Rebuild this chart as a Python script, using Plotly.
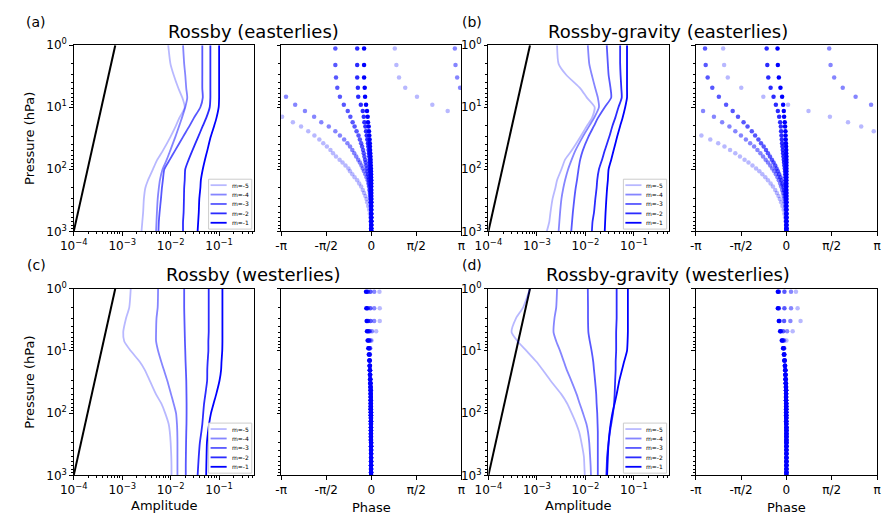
import math
import plotly.graph_objects as go

# ---------------- data ----------------
PLEV_AMP = [1, 2, 3, 5, 7, 10, 15, 20, 30, 50, 70, 100, 150, 200, 300, 500, 700, 1000]
PLEV_PHASE = [1.13, 2.08, 3.32, 4.87, 6.81, 9.09, 11.5, 14.3, 17.4, 20.5, 24.3, 28.5, 33, 38, 43, 49,
              55, 62, 70, 78, 87, 97, 108, 120, 135, 150, 170, 190, 215, 240, 270, 300, 340, 390,
              450, 520, 600, 690, 790, 900, 1000]
BLACK_P = [1000, 1]
BLACK_AMP = [1e-4, 7.2e-4]
M_LABELS = ["m=-5", "m=-4", "m=-3", "m=-2", "m=-1"]
TITLES = ["Rossby (easterlies)", "Rossby-gravity (easterlies)",
          "Rossby (westerlies)", "Rossby-gravity (westerlies)"]
PANEL_TAGS = ["(a)", "(b)", "(c)", "(d)"]
AMP_TICKS = [1e-4, 1e-3, 1e-2, 1e-1]
AMP_TICKTEXT = ["10<sup>\u22124</sup>", "10<sup>\u22123</sup>", "10<sup>\u22122</sup>", "10<sup>\u22121</sup>"]
P_TICKS = [1, 10, 100, 1000]
P_TICKTEXT = ["10<sup>0</sup>", "10<sup>1</sup>", "10<sup>2</sup>", "10<sup>3</sup>"]
PHASE_TICKS = [-math.pi, -math.pi / 2, 0, math.pi / 2, math.pi]
PHASE_TICKTEXT = ["-\u03c0", "-\u03c0/2", "0", "\u03c0/2", "\u03c0"]

# amplitude profiles, order m=-5, m=-4, m=-3, m=-2, m=-1
AMP_A = [
    [.0089, .0099, .0115, .0145, .0174, .0195, .015, .0128, .0099, .0069, .0053, .0043, .0034, .003, .0028, .0027, .0026, .0025],
    [.018, .019, .020, .021, .022, .020, .017, .015, .0125, .0098, .0083, .0068, .006, .0057, .0054, .0052, .0051, .005],
    [.045, .045, .045, .045, .046, .041, .030, .0245, .018, .0123, .0096, .0074, .0069, .0066, .0063, .0059, .0057, .0056],
    [.066, .066, .066, .066, .066, .064, .054, .046, .037, .028, .0235, .020, .0195, .019, .0188, .0185, .018, .018],
    [.1, .1, .1, .1, .1, .098, .088, .079, .067, .057, .051, .046, .042, .041, .039, .038, .037, .036],
]
AMP_B = [
    [.0026, .0028, .0040, .0079, .0107, .0155, .0136, .0107, .0079, .0052, .0038, .0032, .0026, .0024, .0021, .0019, .0018, .0016],
    [.0112, .012, .0135, .016, .018, .019, .015, .012, .0088, .0062, .0052, .0044, .0038, .0035, .0032, .003, .0029, .0028],
    [.0275, .029, .030, .033, .034, .025, .018, .015, .0115, .0088, .0078, .0072, .0067, .0063, .0059, .0055, .0053, .0051],
    [.052, .052, .053, .055, .056, .048, .041, .036, .031, .025, .022, .019, .0175, .017, .016, .015, .014, .0136],
    [.072, .072, .072, .072, .072, .066, .058, .052, .045, .038, .034, .030, .029, .028, .027, .026, .0255, .025],
]
AMP_C = [
    [.0015, .0014, .0012, .00105, .0011, .0015, .0023, .0029, .0037, .005, .0064, .0077, .0091, .0096, .0100, .0103, .0104, .0104],
    [.0055, .0054, .0051, .005, .005, .0055, .0064, .0072, .0085, .0102, .0115, .0129, .0135, .0137, .0138, .0138, .0138, .0138],
    [.019, .019, .0192, .0195, .0197, .020, .0203, .0206, .021, .0212, .0213, .0213, .0212, .021, .0208, .0206, .0205, .0205],
    [.061, .061, .061, .061, .060, .060, .058, .057, .0566, .052, .049, .047, .045, .043, .040, .038, .037, .036],
    [.117, .117, .117, .117, .117, .116, .112, .110, .102, .087, .077, .068, .062, .059, .056, .055, .0545, .054],
]
AMP_D = [
    [.00072, .00052, .00037, .0003, .0004, .00061, .00098, .0013, .0019, .0032, .0042, .0052, .0065, .0074, .0083, .0093, .0095, .0097],
    [.0026, .0025, .0023, .0022, .0025, .003, .0036, .0041, .0051, .0066, .0076, .0089, .0105, .0113, .012, .0125, .0128, .013],
    [.0112, .0113, .0113, .0115, .0123, .0134, .0145, .015, .0158, .0167, .017, .0175, .0178, .018, .018, .018, .018, .018],
    [.044, .044, .044, .043, .043, .043, .042, .042, .041, .040, .039, .037, .034, .032, .030, .028, .0275, .027],
    [.075, .075, .075, .075, .074, .072, .0625, .057, .050, .044, .040, .036, .033, .0315, .030, .029, .0285, .028],
]

# phase profiles (radians), order m=-5 ... m=-1
PH_A = [
    [0.82, 0.876, 0.968, 1.184, 1.594, 2.129, 2.664, -3.108, -2.732, -2.447, -2.197, -1.981, -1.81, -1.673,
     -1.548, -1.423, -1.332, -1.229, -1.104, -1.002, -0.899, -0.797, -0.74, -0.66, -0.581, -0.489, -0.421,
     -0.353, -0.296, -0.25, -0.205, -0.165, -0.142, -0.108, -0.074, -0.051, -0.034, -0.023, -0.011, -0.006, 0.0],
    [2.914, 2.937, 2.994, 3.096, -2.971, -2.652, -2.311, -1.992, -1.742, -1.48, -1.252, -1.093, -0.945,
     -0.831, -0.74, -0.66, -0.592, -0.524, -0.455, -0.398, -0.341, -0.296, -0.25, -0.205, -0.165, -0.125,
     -0.102, -0.08, -0.068, -0.051, -0.04, -0.028, -0.023, -0.017, -0.011, -0.006, 0.0, 0.0, 0.0, 0.0, 0.0],
    [-1.252, -1.252, -1.229, -1.184, -1.093, -0.956, -0.82, -0.729, -0.649, -0.581, -0.512, -0.444, -0.398,
     -0.353, -0.319, -0.285, -0.262, -0.239, -0.216, -0.194, -0.171, -0.148, -0.125, -0.108, -0.091, -0.08,
     -0.068, -0.057, -0.046, -0.034, -0.028, -0.023, -0.017, -0.011, -0.006, 0.0, 0.0, 0.0, 0.0, 0.0, 0.0],
    [-0.49, -0.49, -0.49, -0.467, -0.455, -0.364, -0.296, -0.262, -0.239, -0.205, -0.182, -0.159, -0.137,
     -0.114, -0.102, -0.091, -0.08, -0.068, -0.057, -0.051, -0.046, -0.04, -0.034, -0.028, -0.023, -0.017,
     -0.011, -0.011, -0.006, -0.006, -0.006, 0.0, 0.0, 0.0, 0.0, 0.0, 0.0, 0.0, 0.0, 0.0, 0.0],
    [-0.25, -0.25, -0.25, -0.228, -0.216, -0.182, -0.148, -0.125, -0.114, -0.091, -0.08, -0.068, -0.057,
     -0.051, -0.046, -0.04, -0.034, -0.028, -0.023, -0.023, -0.017, -0.011, -0.011, -0.006, -0.006, 0.0,
     0.0, 0.0, 0.0, 0.0, 0.0, 0.0, 0.0, 0.0, 0.0, 0.0, 0.0, 0.0, 0.0, 0.0, 0.0],
]
PH_B = [
    [-2.193, -2.159, -2.033, -1.565, -0.8, 0.057, 0.765, 1.508, 2.136, 2.593, 3.027, -2.947, -2.639, -2.365,
     -2.148, -1.953, -1.771, -1.611, -1.451, -1.314, -1.177, -1.051, -0.937, -0.834, -0.731, -0.64, -0.548,
     -0.468, -0.388, -0.331, -0.274, -0.228, -0.183, -0.137, -0.097, -0.069, -0.046, -0.029, -0.017, -0.006, 0.0],
    [1.485, 1.531, 1.656, 1.953, 2.399, 2.936, -2.89, -2.513, -2.228, -1.976, -1.771, -1.577, -1.405, -1.257,
     -1.12, -1.005, -0.902, -0.811, -0.72, -0.64, -0.56, -0.491, -0.423, -0.366, -0.308, -0.263, -0.217,
     -0.183, -0.149, -0.12, -0.097, -0.074, -0.057, -0.04, -0.029, -0.017, -0.011, -0.006, 0.0, 0.0, 0.0],
    [-2.822, -2.799, -2.73, -2.57, -2.342, -2.091, -1.862, -1.679, -1.485, -1.348, -1.2, -1.085, -0.971,
     -0.88, -0.788, -0.708, -0.64, -0.571, -0.503, -0.446, -0.388, -0.343, -0.297, -0.251, -0.206, -0.171,
     -0.137, -0.103, -0.08, -0.057, -0.04, -0.029, -0.017, -0.011, -0.006, 0.0, 0.0, 0.0, 0.0, 0.0, 0.0],
    [-0.685, -0.663, -0.628, -0.548, -0.446, -0.366, -0.297, -0.251, -0.217, -0.194, -0.183, -0.171, -0.16,
     -0.149, -0.137, -0.126, -0.114, -0.103, -0.091, -0.08, -0.069, -0.057, -0.046, -0.04, -0.034, -0.029,
     -0.023, -0.017, -0.011, -0.006, -0.006, -0.006, 0.0, 0.0, 0.0, 0.0, 0.0, 0.0, 0.0, 0.0, 0.0],
    [-0.308, -0.297, -0.263, -0.206, -0.149, -0.114, -0.091, -0.08, -0.057, -0.046, -0.034, -0.029, -0.023,
     -0.017, -0.011, -0.006, -0.006, 0.0, 0.0, 0.0, 0.0, 0.0, 0.0, 0.0, 0.0, 0.0, 0.0, 0.0, 0.0, 0.0, 0.0,
     0.0, 0.0, 0.0, 0.0, 0.0, 0.0, 0.0, 0.0, 0.0, 0.0],
]
PH_C = [
    [0.285, 0.296, 0.296, 0.171, 0.011, -0.034, -0.046, -0.057, -0.051, -0.046, -0.04, -0.034, -0.028, -0.023,
     -0.017, -0.017, -0.017, -0.017, -0.017, -0.017, -0.017, -0.011, -0.011, -0.011, -0.011, -0.011, -0.011,
     -0.011, -0.011, -0.011, -0.011, -0.006, -0.006, -0.006, -0.006, -0.006, -0.006, -0.006, -0.006, -0.006, -0.006],
    [0.102, 0.102, 0.102, 0.023, -0.023, -0.046, -0.051, -0.057, -0.051, -0.046, -0.04, -0.034, -0.028, -0.023,
     -0.017, -0.017, -0.017, -0.017, -0.017, -0.017, -0.017, -0.011, -0.011, -0.011, -0.011, -0.011, -0.011,
     -0.011, -0.011, -0.011, -0.011, -0.006, -0.006, -0.006, -0.006, -0.006, -0.006, -0.006, -0.006, -0.006, -0.006],
    [-0.034, -0.034, -0.023, -0.057, -0.068, -0.063, -0.057, -0.051, -0.046, -0.043, -0.04, -0.034, -0.028, -0.023,
     -0.017, -0.017, -0.017, -0.017, -0.017, -0.017, -0.017, -0.011, -0.011, -0.011, -0.011, -0.011, -0.011,
     -0.011, -0.011, -0.011, -0.011, -0.006, -0.006, -0.006, -0.006, -0.006, -0.006, -0.006, -0.006, -0.006, -0.006],
    [-0.125, -0.125, -0.114, -0.102, -0.091, -0.08, -0.068, -0.057, -0.051, -0.046, -0.04, -0.034, -0.028, -0.023,
     -0.017, -0.017, -0.017, -0.017, -0.017, -0.017, -0.017, -0.011, -0.011, -0.011, -0.011, -0.011, -0.011,
     -0.011, -0.011, -0.011, -0.011, -0.006, -0.006, -0.006, -0.006, -0.006, -0.006, -0.006, -0.006, -0.006, -0.006],
    [-0.182, -0.171, -0.159, -0.148, -0.125, -0.102, -0.085, -0.068, -0.057, -0.051, -0.046, -0.04, -0.034, -0.028,
     -0.023, -0.023, -0.017, -0.017, -0.017, -0.017, -0.017, -0.017, -0.017, -0.011, -0.011, -0.011, -0.011,
     -0.011, -0.011, -0.011, -0.011, -0.006, -0.006, -0.006, -0.006, -0.006, -0.006, -0.006, -0.006, -0.006, -0.006],
]
PH_D = [
    [0.331, 0.388, 0.491, 0.217, 0.0, -0.069, -0.069, -0.063, -0.051, -0.04, -0.034, -0.029, -0.023, -0.017,
     -0.011, -0.011, -0.011, -0.011, -0.006, -0.006, -0.006, -0.006, -0.006, -0.006, -0.006, -0.006,
     0.0, 0.0, 0.0, 0.0, 0.0, 0.0, 0.0, 0.0, 0.0, 0.0, 0.0, 0.0, 0.0, 0.0, 0.0],
    [0.16, 0.16, 0.137, 0.023, -0.08, -0.091, -0.075, -0.063, -0.051, -0.04, -0.034, -0.029, -0.023, -0.017,
     -0.011, -0.011, -0.011, -0.011, -0.006, -0.006, -0.006, -0.006, -0.006, -0.006, -0.006, -0.006,
     0.0, 0.0, 0.0, 0.0, 0.0, 0.0, 0.0, 0.0, 0.0, 0.0, 0.0, 0.0, 0.0, 0.0, 0.0],
    [-0.069, -0.069, -0.08, -0.114, -0.114, -0.091, -0.075, -0.063, -0.051, -0.04, -0.034, -0.029, -0.023, -0.017,
     -0.011, -0.011, -0.011, -0.011, -0.006, -0.006, -0.006, -0.006, -0.006, -0.006, -0.006, -0.006,
     0.0, 0.0, 0.0, 0.0, 0.0, 0.0, 0.0, 0.0, 0.0, 0.0, 0.0, 0.0, 0.0, 0.0, 0.0],
    [-0.263, -0.263, -0.24, -0.194, -0.137, -0.103, -0.08, -0.063, -0.046, -0.034, -0.029, -0.023, -0.017, -0.011,
     -0.011, -0.011, -0.011, -0.011, -0.006, -0.006, -0.006, -0.006, -0.006, -0.006, -0.006, -0.006,
     0.0, 0.0, 0.0, 0.0, 0.0, 0.0, 0.0, 0.0, 0.0, 0.0, 0.0, 0.0, 0.0, 0.0, 0.0],
    [-0.297, -0.297, -0.263, -0.217, -0.16, -0.114, -0.086, -0.069, -0.051, -0.04, -0.034, -0.029, -0.023, -0.017,
     -0.011, -0.011, -0.011, -0.011, -0.006, -0.006, -0.006, -0.006, -0.006, -0.006, -0.006, -0.006,
     0.0, 0.0, 0.0, 0.0, 0.0, 0.0, 0.0, 0.0, 0.0, 0.0, 0.0, 0.0, 0.0, 0.0, 0.0],
]

AMPS = [AMP_A, AMP_B, AMP_C, AMP_D]
PHASES = [PH_A, PH_B, PH_C, PH_D]
for grp in AMPS:
    for s in grp:
        assert len(s) == len(PLEV_AMP)
for grp in PHASES:
    for s in grp:
        assert len(s) == len(PLEV_PHASE), len(s)

# ---------------- style ----------------
W, H = 882, 527
FONT = "DejaVu Sans"
ALPHAS = [0.28, 0.48, 0.66, 0.83, 1.0]
COLORS = [f"rgba(0,0,255,{a})" for a in ALPHAS]

# pixel boxes of the panels (left, right) and (top, bottom)
COLS = [(61, 245.5), (272.7, 456.7), (484.3, 669), (696, 881)]
ROWS = [(37.3, 229.3), (288.3, 481)]


def fx(px):
    return px / W


def fy(py):
    return 1 - py / H


minor_y = [m * 10 ** e for e in range(0, 3) for m in range(2, 10)]
minor_x = [m * 10 ** e for e in range(-4, 0) for m in range(2, 10) if m * 10 ** e < 0.55]
minor_style = dict(ticks="outside", ticklen=2, tickwidth=0.6, tickcolor="black", showgrid=False)

common = dict(showline=True, mirror=True, linecolor="black", linewidth=0.9,
              ticks="outside", ticklen=3.5, tickwidth=0.9, tickcolor="black",
              showgrid=False, zeroline=False,
              tickfont=dict(family=FONT, size=12, color="black"))

fig = go.Figure()
layout = dict(width=W, height=H, margin=dict(l=0, r=0, t=0, b=0), autosize=False,
              paper_bgcolor="white", plot_bgcolor="white", showlegend=False,
              font=dict(family=FONT, color="black"))
annotations = []
shapes = []

for k in range(4):
    r, c = divmod(k, 2)
    ia, ip = 2 * k + 1, 2 * k + 2
    xa = "x" if ia == 1 else f"x{ia}"
    ya = "y" if ia == 1 else f"y{ia}"
    xp, yp = f"x{ip}", f"y{ip}"
    top, bot = ROWS[r]
    ydom = [fy(bot), fy(top)]
    l1, r1 = COLS[2 * c]
    l2, r2 = COLS[2 * c + 1]

    # amplitude axes
    layout["xaxis" if ia == 1 else f"xaxis{ia}"] = dict(
        common, type="log", range=[-4, -0.27], domain=[fx(l1), fx(r1)], anchor=ya,
        tickmode="array", tickvals=AMP_TICKS, ticktext=AMP_TICKTEXT,
        minor=dict(minor_style, tickvals=minor_x))
    layout["yaxis" if ia == 1 else f"yaxis{ia}"] = dict(
        common, type="log", range=[3, 0], domain=ydom, anchor=xa,
        tickmode="array", tickvals=P_TICKS, ticktext=P_TICKTEXT,
        minor=dict(minor_style, tickvals=minor_y))
    # phase axes
    layout[f"xaxis{ip}"] = dict(
        common, range=[-math.pi, math.pi], domain=[fx(l2), fx(r2)], anchor=yp,
        tickmode="array", tickvals=PHASE_TICKS, ticktext=PHASE_TICKTEXT)
    layout[f"yaxis{ip}"] = dict(
        common, type="log", range=[3, 0], domain=ydom, anchor=xp,
        tickmode="array", tickvals=P_TICKS, showticklabels=False,
        minor=dict(minor_style, tickvals=minor_y))

    # black reference line
    fig.add_trace(go.Scatter(x=BLACK_AMP, y=BLACK_P, mode="lines", line=dict(color="black", width=2),
                             xaxis=xa, yaxis=ya, hoverinfo="skip"))
    for j in range(5):
        fig.add_trace(go.Scatter(x=AMPS[k][j], y=PLEV_AMP, mode="lines", name=M_LABELS[j],
                                 line=dict(color=COLORS[j], width=1.8, shape="spline", smoothing=0.6),
                                 xaxis=xa, yaxis=ya))
    for j in range(5):
        fig.add_trace(go.Scatter(x=PHASES[k][j], y=PLEV_PHASE, mode="markers", name=M_LABELS[j],
                                 marker=dict(color=COLORS[j], size=4.5, line=dict(width=0)),
                                 xaxis=xp, yaxis=yp))

    # legend (drawn in the amplitude panel, lower right)
    xd, yd = f"{xa} domain", f"{ya} domain"
    shapes.append(dict(type="rect", xref=xd, yref=yd, x0=0.746, x1=0.985, y0=0.012, y1=0.28,
                       line=dict(color="#cccccc", width=1), fillcolor="rgba(255,255,255,0.85)", layer="above"))
    for j in range(5):
        yy = 0.248 - j * 0.0505
        shapes.append(dict(type="line", xref=xd, yref=yd, x0=0.757, x1=0.846, y0=yy, y1=yy,
                           line=dict(color=COLORS[j], width=1.8), layer="above"))
        annotations.append(dict(text=M_LABELS[j], xref=xd, yref=yd, x=0.862, y=yy, xanchor="left",
                                yanchor="middle", showarrow=False, font=dict(size=6, family=FONT)))

    # titles and panel tags
    tcx = [244, 668][c]
    tcy = [23, 274][r]
    annotations.append(dict(text=TITLES[k], xref="paper", yref="paper", x=fx(tcx), y=fy(tcy),
                            xanchor="center", yanchor="middle", showarrow=False,
                            font=dict(size=18, family=FONT)))
    annotations.append(dict(text=PANEL_TAGS[k], xref="paper", yref="paper", x=fx([22.5, 467.5][c]),
                            y=fy([13, 264][r]), xanchor="center", yanchor="middle", showarrow=False,
                            font=dict(size=14, family=FONT)))
    if c == 0:
        annotations.append(dict(text="Pressure (hPa)", xref="paper", yref="paper", x=fx(16),
                                y=fy((top + bot) / 2), textangle=-90, xanchor="center", yanchor="middle",
                                showarrow=False, font=dict(size=13, family=FONT)))
    if r == 1:
        annotations.append(dict(text="Amplitude", xref="paper", yref="paper", x=fx((l1 + r1) / 2),
                                y=fy(512), xanchor="center", yanchor="middle", showarrow=False,
                                font=dict(size=13, family=FONT)))
        annotations.append(dict(text="Phase", xref="paper", yref="paper", x=fx((l2 + r2) / 2),
                                y=fy(514), xanchor="center", yanchor="middle", showarrow=False,
                                font=dict(size=13, family=FONT)))

layout["annotations"] = annotations
layout["shapes"] = shapes
fig.update_layout(**layout)
fig.write_html("out.html")
